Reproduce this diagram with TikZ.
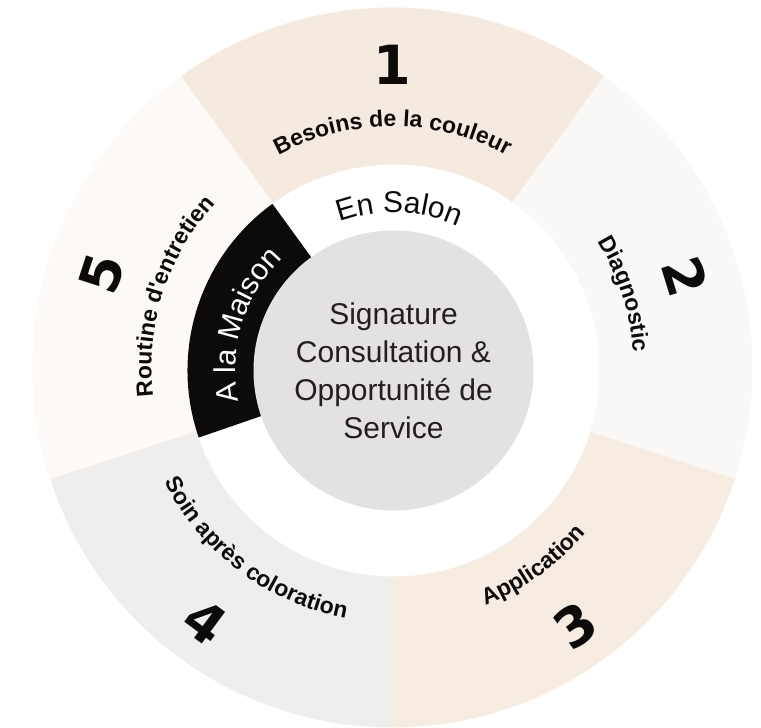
\documentclass[tikz,border=0pt]{standalone}
\usepackage{fontspec}
\setmainfont{Liberation Sans}[Ligatures=TeXOff]
\newfontfamily\digitfont{DejaVu Sans}
\usetikzlibrary{decorations.text}
\definecolor{segbeige}{HTML}{F5EADF}
\definecolor{segpale}{HTML}{F9F8F7}
\definecolor{segsand}{HTML}{F6ECE2}
\definecolor{seggrey}{HTML}{EFEEED}
\definecolor{segcream}{HTML}{FDF9F6}
\definecolor{coregrey}{HTML}{E3E2E1}
\definecolor{inkblack}{HTML}{0D0B0A}
\definecolor{inkgrey}{HTML}{231F20}
\newcommand\steplabelfont{\fontsize{23}{26}\selectfont\bfseries\color{inkblack}}
\newcommand\placefont{\fontsize{30}{36}\selectfont}

\begin{document}
\begin{tikzpicture}[
    curved/.style={decorate, decoration={text along path, text align=center, text={#1}}},
    number/.style={font=\digitfont\fontsize{54}{54}\selectfont\bfseries, text=inkblack, inner sep=0pt},
    core/.style={circle, fill=coregrey, minimum size=280pt, inner sep=0pt, align=center,
      font=\fontsize{30}{38}\selectfont, text=inkgrey}
  ]
  \useasboundingbox[fill=white] (-392.5pt,-360.5pt) rectangle (368.5pt,367.5pt);

  % five steps of the outer ring
  \fill[segbeige] (0,0) -- (54:360pt) arc[start angle=54, end angle=126, radius=360pt] -- cycle;
  \fill[segpale] (0,0) -- (-18:360pt) arc[start angle=-18, end angle=54, radius=360pt] -- cycle;
  \fill[segsand] (0,0) -- (-90:360pt) arc[start angle=-90, end angle=-18, radius=360pt] -- cycle;
  \fill[seggrey] (0,0) -- (-162:360pt) arc[start angle=-162, end angle=-90, radius=360pt] -- cycle;
  \fill[segcream] (0,0) -- (126:360pt) arc[start angle=126, end angle=198, radius=360pt] -- cycle;

  % inner ring and centre
  \begin{scope}[shift={(1pt,-3pt)}]
    \fill[white] (0,0) circle[radius=206pt];
    \fill[inkblack] (0,0) -- (126:206pt) arc[start angle=126, end angle=199, radius=206pt] -- cycle;
    \node[core] (core) at (0,0) {Signature\\Consultation \&\\Opportunité de\\Service};
    \path[curved={|\placefont\color{inkblack}|En Salon}] (118:158pt) arc[start angle=118, end angle=58, radius=158pt];
    \path[curved={|\placefont\color{white}|A la Maison}] (199:158pt) arc[start angle=199, end angle=127, radius=158pt];
  \end{scope}

  % step labels
  \path[curved={|\steplabelfont|Besoins de la couleur}] (130:241pt) arc[start angle=130, end angle=50, radius=241pt];
  \path[curved={|\steplabelfont|Diagnostic}] (47.6:241pt) arc[start angle=47.6, end angle=-12.4, radius=241pt];
  \path[curved={|\steplabelfont|Application}] (-84.6:255pt) arc[start angle=-84.6, end angle=-24.6, radius=255pt];
  \path[curved={|\steplabelfont|Soin après coloration}] (-162:255pt) arc[start angle=-162, end angle=-92, radius=255pt];
  \path[curved={|\steplabelfont|Routine d'entretien}] (197:241pt) arc[start angle=197, end angle=127, radius=241pt];

  % step numbers
  \node[number] (n1) at (90:303pt) {1};
  \node[number, rotate=-72.8] (n2) at (17.2:306pt) {2};
  \node[number, rotate=35.3] (n3) at (-54.7:316pt) {3};
  \node[number, rotate=-36.4] (n4) at (-126.4:316pt) {4};
  \node[number, rotate=72] (n5) at (162:305pt) {5};
\end{tikzpicture}
\end{document}
